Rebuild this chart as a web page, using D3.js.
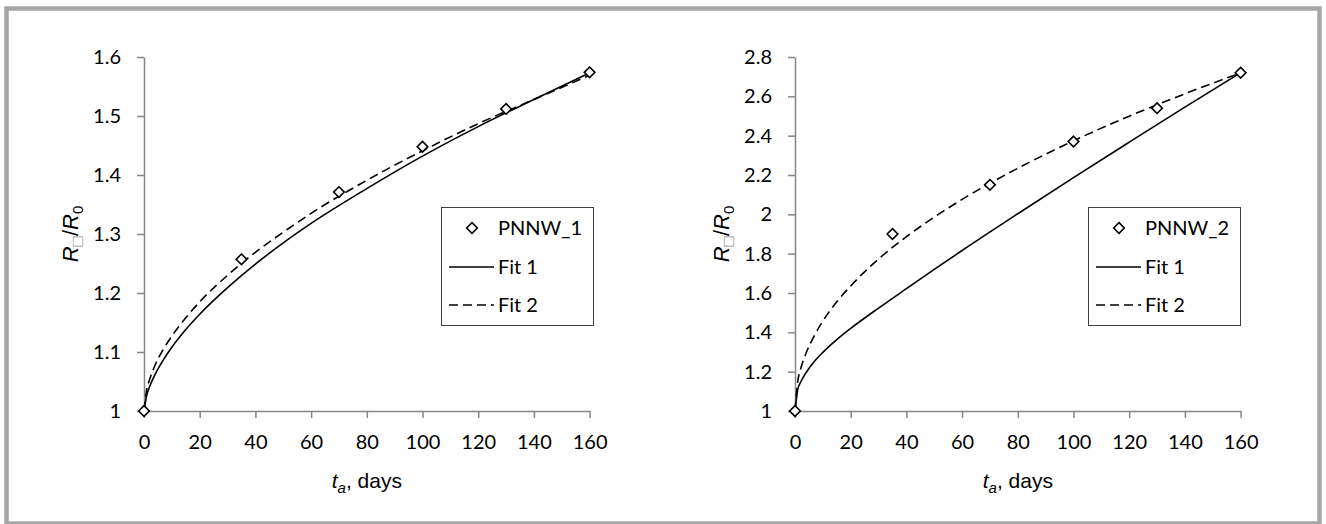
<!DOCTYPE html>
<html>
<head>
<meta charset="utf-8">
<script src="https://cdn.jsdelivr.net/npm/d3@7"></script>
<style>
  body { margin: 0; background: #fff; }
  svg { display: block; }
</style>
</head>
<body>
<svg id="chart"></svg>
<script>
const width = 1326;
const height = 524;

// measured points
const days = [0, 35, 70, 100, 130, 160];
const pnnw1 = [1.0, 1.257, 1.371, 1.448, 1.512, 1.574];
const pnnw2 = [1.0, 1.9, 2.15, 2.37, 2.54, 2.72];

// fit curves
const fitDays = [0, 1, 2, 4, 7, 10, 15, 20, 30, 40, 50, 60, 80, 100, 120, 140, 160];
const fit1a = [1.000, 1.027, 1.041, 1.062, 1.087, 1.108, 1.138, 1.164, 1.209, 1.249, 1.285, 1.318, 1.377, 1.432, 1.482, 1.528, 1.573];
const fit2a = [1.000, 1.037, 1.053, 1.078, 1.105, 1.127, 1.158, 1.185, 1.230, 1.269, 1.303, 1.335, 1.391, 1.441, 1.487, 1.528, 1.569];
const fit1b = [1.000, 1.110, 1.146, 1.196, 1.253, 1.298, 1.363, 1.420, 1.523, 1.622, 1.720, 1.816, 2.003, 2.187, 2.367, 2.545, 2.720];
const fit2b = [1.000, 1.152, 1.212, 1.295, 1.385, 1.457, 1.555, 1.636, 1.773, 1.886, 1.986, 2.076, 2.234, 2.374, 2.499, 2.613, 2.719];

// ticks
const xTicks = [0, 20, 40, 60, 80, 100, 120, 140, 160];
const yTicksA = [1, 1.1, 1.2, 1.3, 1.4, 1.5, 1.6];
const yTicksB = [1, 1.2, 1.4, 1.6, 1.8, 2, 2.2, 2.4, 2.6, 2.8];

const axisColor = '#868686';
const tickFont = 'Lato, "Open Sans", sans-serif';
const titleFont = '"Liberation Sans", Arial, sans-serif';

const svg = d3.select('#chart')
    .attr('width', width)
    .attr('height', height);

// outer frame
svg.append('rect')
    .attr('x', 6.5)
    .attr('y', 8.5)
    .attr('width', 1313)
    .attr('height', 515)
    .attr('fill', '#fff')
    .attr('stroke', '#a6a6a6')
    .attr('stroke-width', 4.5);

function drawPanel(opt){
    const x = d3.scaleLinear().domain([0, 160]).range([opt.left, opt.left + 445.6]);
    const y = d3.scaleLinear().domain(opt.yDomain).range([411, 57]);

    const g = svg.append('g');

    // y axis
    const yAxis = d3.axisLeft(y)
        .tickValues(opt.yTicks)
        .tickSize(7)
        .tickSizeOuter(0)
        .tickPadding(16)
        .tickFormat(d => String(+d.toFixed(1)));
    const ya = g.append('g')
        .attr('transform', `translate(${opt.left},0)`)
        .call(yAxis);

    // x axis
    const xAxis = d3.axisBottom(x)
        .tickValues(xTicks)
        .tickSize(7)
        .tickSizeOuter(0)
        .tickPadding(17)
        .tickFormat(d => String(d));
    const xa = g.append('g')
        .attr('transform', 'translate(0,411)')
        .call(xAxis);

    [ya, xa].forEach(a => {
        a.select('.domain').attr('stroke', axisColor).attr('stroke-width', 1.5);
        a.selectAll('.tick line').attr('stroke', axisColor).attr('stroke-width', 1.5);
        a.selectAll('.tick text')
            .attr('fill', '#000')
            .attr('font-family', tickFont)
            .attr('font-size', 20);
    });

    // fit lines
    const line = d3.line()
        .x((d, i) => x(fitDays[i]))
        .y(d => y(d))
        .curve(d3.curveMonotoneX);

    g.append('path')
        .datum(opt.fit1)
        .attr('d', line)
        .attr('fill', 'none')
        .attr('stroke', '#000')
        .attr('stroke-width', 1.6);

    g.append('path')
        .datum(opt.fit2)
        .attr('d', line)
        .attr('fill', 'none')
        .attr('stroke', '#000')
        .attr('stroke-width', 1.6)
        .attr('stroke-dasharray', '9,5');

    // points
    const diamond = d3.symbol().type(d3.symbolDiamond2).size(72);
    g.selectAll('.pt')
        .data(opt.points)
        .enter()
        .append('path')
        .attr('class', 'pt')
        .attr('d', diamond)
        .attr('transform', (d, i) => `translate(${x(days[i])},${y(d)})`)
        .attr('fill', '#fff')
        .attr('stroke', '#000')
        .attr('stroke-width', 1.6);

    // x title
    const xt = g.append('text')
        .attr('x', x(80))
        .attr('y', 488)
        .attr('text-anchor', 'middle')
        .attr('font-family', titleFont)
        .attr('font-size', 21)
        .attr('fill', '#000');
    xt.append('tspan').attr('font-style', 'italic').text('t');
    xt.append('tspan').attr('font-style', 'italic').attr('font-size', 15).attr('dy', 5).text('a');
    xt.append('tspan').attr('dy', -5).text(', days');

    // y title
    const yt = g.append('text')
        .attr('transform', `translate(${opt.left - 66},234) rotate(-90)`)
        .attr('text-anchor', 'middle')
        .attr('font-family', titleFont)
        .attr('font-size', 22)
        .attr('fill', '#000');
    yt.append('tspan').attr('font-style', 'italic').text('R');
    yt.append('tspan').attr('font-size', 17).attr('dy', 5).attr('fill', '#8a8a8a').text('\u25A1');
    yt.append('tspan').attr('dy', -5).text('/');
    yt.append('tspan').attr('font-style', 'italic').text('R');
    yt.append('tspan').attr('font-size', 15).attr('dy', 5).text('0');

    // legend
    const lg = g.append('g')
        .attr('transform', `translate(${opt.legendX},207)`);
    lg.append('rect')
        .attr('x', 0.5)
        .attr('y', 0.5)
        .attr('width', 152)
        .attr('height', 118)
        .attr('fill', '#fff')
        .attr('stroke', '#404040')
        .attr('stroke-width', 1);
    lg.append('path')
        .attr('d', diamond)
        .attr('transform', 'translate(31,21)')
        .attr('fill', '#fff')
        .attr('stroke', '#000')
        .attr('stroke-width', 1.6);
    lg.append('line')
        .attr('x1', 8).attr('x2', 53)
        .attr('y1', 60).attr('y2', 60)
        .attr('stroke', '#000').attr('stroke-width', 1.6);
    lg.append('line')
        .attr('x1', 8).attr('x2', 53)
        .attr('y1', 98).attr('y2', 98)
        .attr('stroke', '#000').attr('stroke-width', 1.6)
        .attr('stroke-dasharray', '9,5');
    const labels = [opt.name, 'Fit 1', 'Fit 2'];
    lg.selectAll('.lbl')
        .data(labels)
        .enter()
        .append('text')
        .attr('x', 57)
        .attr('y', (d, i) => 28 + i * 38.5)
        .attr('font-family', tickFont)
        .attr('font-size', 20)
        .attr('fill', '#000')
        .text(d => d);
}

drawPanel({
    left: 144,
    yDomain: [1, 1.6],
    yTicks: yTicksA,
    points: pnnw1,
    fit1: fit1a,
    fit2: fit2a,
    name: 'PNNW_1',
    legendX: 441
});

drawPanel({
    left: 795,
    yDomain: [1, 2.8],
    yTicks: yTicksB,
    points: pnnw2,
    fit1: fit1b,
    fit2: fit2b,
    name: 'PNNW_2',
    legendX: 1088
});
</script>
</body>
</html>
